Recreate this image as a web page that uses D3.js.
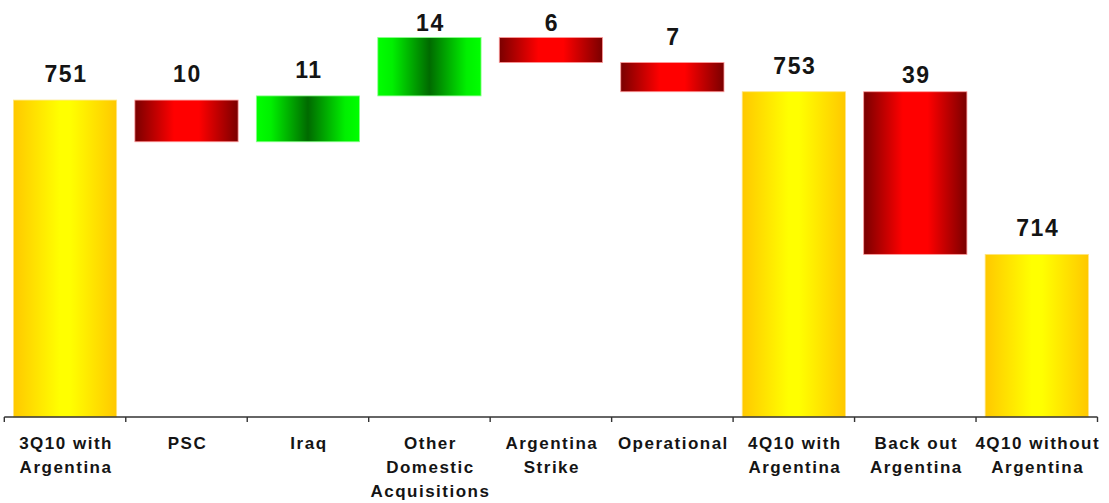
<!DOCTYPE html>
<html>
<head>
<meta charset="utf-8">
<script src="https://cdn.jsdelivr.net/npm/d3@7"></script>
<style>
  html, body { margin: 0; padding: 0; background: #ffffff; }
  svg { display: block; }
  text { font-family: "Liberation Sans", Arial, sans-serif; font-weight: bold; fill: #141414; }
</style>
</head>
<body>
<svg id="chart" width="1109" height="503"></svg>
<script>
// Bridge from 3Q10 to 4Q10, with the Argentina back-out
const categories = [
  "3Q10 with\nArgentina", "PSC", "Iraq", "Other\nDomestic\nAcquisitions",
  "Argentina\nStrike", "Operational", "4Q10 with\nArgentina",
  "Back out\nArgentina", "4Q10 without\nArgentina"
];
const values = [751, -10, 11, 14, -6, -7, 753, -39, 714];
const isTotal = [true, false, false, false, false, false, true, false, true];
const yDomain = [675, 775];

const width = 1109, height = 503;
const svg = d3.select("#chart");

// running totals give each step its start and end
let running = 0;
const bars = values.map((v, i) => {
  let start, end;
  if (isTotal[i]) { start = yDomain[0]; end = v; running = v; }
  else { start = running; end = running + v; running = end; }
  return { cat: categories[i], value: v, start, end, total: isTotal[i], i };
});

const x = d3.scaleBand().domain(d3.range(categories.length)).range([4.3, 1097.5]).padding(0);
const y = d3.scaleLinear().domain(yDomain).range([417, 0]);
const inset = x.bandwidth() * 0.075;

// horizontal gradients for the three bar kinds
const defs = svg.append("defs");
function grad(id, stops) {
  const g = defs.append("linearGradient").attr("id", id)
    .attr("x1", "0%").attr("x2", "100%").attr("y1", "0%").attr("y2", "0%");
  stops.forEach(([o, c]) => g.append("stop").attr("offset", o).attr("stop-color", c));
}
grad("gTotal", [["0%", "#ffc800"], ["45%", "#ffff00"], ["55%", "#ffff00"], ["100%", "#ffc800"]]);
grad("gDown", [["0%", "#7a0000"], ["38%", "#ff0000"], ["62%", "#ff0000"], ["100%", "#7a0000"]]);
grad("gUp", [["0%", "#00ff00"], ["14%", "#00f000"], ["50%", "#006a00"], ["86%", "#00f000"], ["100%", "#00ff00"]]);

const fillFor = d => d.total ? "url(#gTotal)" : (d.value < 0 ? "url(#gDown)" : "url(#gUp)");
const edgeFor = d => d.total ? "#ffe680" : (d.value < 0 ? "#ff9a9a" : "#8cff8c");

svg.append("g").selectAll("rect").data(bars).join("rect")
  .attr("x", d => x(d.i) + inset)
  .attr("width", x.bandwidth() - 2 * inset)
  .attr("y", d => y(Math.max(d.start, d.end)))
  .attr("height", d => Math.abs(y(d.start) - y(d.end)))
  .attr("fill", fillFor)
  .attr("stroke", edgeFor)
  .attr("stroke-width", 0.8);

// value labels above each bar, kept inside the top of the plot
const labelNudge = { 7: 9 };
svg.append("g").selectAll("text").data(bars).join("text")
  .attr("x", d => x(d.i) + x.bandwidth() / 2 + 1)
  .attr("y", d => Math.max(y(Math.max(d.start, d.end)) - 18, 31) + (labelNudge[d.i] || 0))
  .attr("text-anchor", "middle")
  .attr("font-size", 23)
  .attr("letter-spacing", 1.6)
  .text(d => Math.abs(d.value));

// category axis: baseline with ticks at band edges
const axis = svg.append("g");
axis.append("line")
  .attr("x1", x.range()[0]).attr("x2", x.range()[1])
  .attr("y1", y(yDomain[0])).attr("y2", y(yDomain[0]))
  .attr("stroke", "#333").attr("stroke-width", 1.6);
const edges = d3.range(categories.length + 1).map(i => x.range()[0] + i * x.step());
axis.selectAll("line.tick").data(edges).join("line").attr("class", "tick")
  .attr("x1", d => d).attr("x2", d => d)
  .attr("y1", y(yDomain[0])).attr("y2", y(yDomain[0]) + 5)
  .attr("stroke", "#333").attr("stroke-width", 1.4);

const catLabels = axis.selectAll("text").data(bars).join("text")
  .attr("text-anchor", "middle")
  .attr("font-size", 17)
  .attr("letter-spacing", 1.5)
  .attr("transform", d => `translate(${x(d.i) + x.bandwidth() / 2 + 1},449)`);
catLabels.each(function(d) {
  const lines = d.cat.split("\n");
  d3.select(this).selectAll("tspan").data(lines).join("tspan")
    .attr("x", 0).attr("y", (l, k) => k * 24)
    .text(l => l);
});
</script>
</body>
</html>
